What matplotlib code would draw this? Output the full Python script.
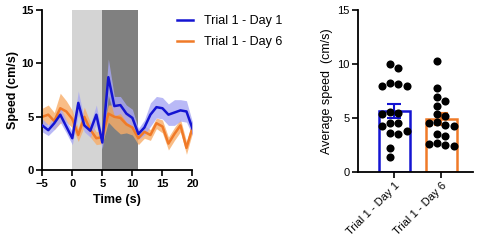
import numpy as np
import matplotlib
matplotlib.use("Agg")
import matplotlib.pyplot as plt

plt.rcParams['font.family'] = ['Liberation Sans', 'DejaVu Sans']

# time course data (mean +/- sem), 1 s bins
time = np.arange(-5, 21)
day1_mean = [4.2, 3.75, 4.4, 5.2, 4.1, 3.0, 6.3, 4.2, 3.7, 5.2, 2.6, 8.7, 6.0,
             6.1, 5.3, 4.9, 3.4, 4.0, 5.2, 5.9, 5.8, 5.2, 5.4, 5.6, 5.5, 3.9]
day1_sem = [0.6, 0.5, 0.6, 0.7, 0.6, 0.6, 1.1, 0.6, 0.6, 0.9, 0.6, 1.7, 0.9,
            0.8, 0.8, 0.8, 0.5, 0.7, 1.1, 1.0, 1.0, 1.0, 1.2, 1.0, 1.0, 0.6]
day6_mean = [5.0, 5.2, 4.6, 5.8, 5.5, 4.8, 3.3, 5.0, 3.8, 3.0, 3.1, 5.3, 5.0,
             4.9, 4.3, 4.0, 3.0, 3.6, 3.3, 4.4, 4.1, 2.5, 3.4, 4.2, 2.1, 4.0]
day6_sem = [0.8, 0.9, 0.8, 1.4, 1.0, 0.8, 0.6, 0.9, 0.7, 0.6, 0.6, 0.8, 1.1,
            1.5, 0.8, 0.7, 0.6, 0.6, 0.5, 0.5, 0.6, 0.6, 0.6, 0.6, 0.6, 0.5]

# stimulus epochs
light_epoch = (0, 5)
dark_epoch = (5, 11)

# per-animal average speeds
labels = ["Trial 1 - Day 1", "Trial 1 - Day 6"]
avg_day1 = [10.0, 9.65, 8.2, 7.9, 7.95, 8.1, 5.4, 5.5, 5.3, 4.5, 4.5, 4.2,
            3.55, 3.5, 3.8, 2.2, 1.4]
avg_day6 = [10.3, 7.8, 6.55, 6.9, 6.1, 5.2, 5.35, 4.6, 4.5, 4.3, 4.2, 3.5,
            3.3, 2.4, 2.7, 2.5, 2.6]

blue = "#1414d2"
orange = "#f07a28"

fig = plt.figure(figsize=(4.8, 2.48), dpi=100)

# ---- left: time course ----
ax = fig.add_axes([0.088, 0.313, 0.313, 0.648])
ax.axvspan(*light_epoch, color="#d4d4d4", lw=0, zorder=0)
ax.axvspan(*dark_epoch, color="#808080", lw=0, zorder=0)

for m, s, fc in [(day6_mean, day6_sem, "#f8ad68"),
                 (day1_mean, day1_sem, "#a8a8f4")]:
    m = np.array(m)
    s = np.array(s)
    ax.fill_between(time, m - s, m + s, color=fc, alpha=0.8, lw=0, zorder=1)

l1, = ax.plot(time, day1_mean, color=blue, lw=1.8, zorder=3)
l6, = ax.plot(time, day6_mean, color=orange, lw=1.8, zorder=2)

ax.set_xlim(-5, 20)
ax.set_ylim(0, 15)
ax.set_xticks([-5, 0, 5, 10, 15, 20])
ax.set_yticks([0, 5, 10, 15])
ax.set_xlabel("Time (s)", fontsize=9, fontweight="bold", labelpad=4)
ax.set_ylabel("Speed (cm/s)", fontsize=9, fontweight="bold", labelpad=2)
for lab in ax.get_xticklabels() + ax.get_yticklabels():
    lab.set_fontweight("bold")
ax.tick_params(labelsize=8, width=1.2, length=4, pad=2)
for sp in ["top", "right"]:
    ax.spines[sp].set_visible(False)
for sp in ["left", "bottom"]:
    ax.spines[sp].set_linewidth(1.3)

fig.legend([l1, l6], labels, loc="upper left", bbox_to_anchor=(0.345, 0.985),
           frameon=False, fontsize=9, handlelength=1.3, handletextpad=0.85,
           labelspacing=0.75)

# ---- right: averages ----
bx = fig.add_axes([0.746, 0.308, 0.239, 0.652])
xpos = np.array([0, 1])
bar_w = 0.66
bx.set_xlim(-0.77, 1.67)
bx.set_ylim(0, 15)

groups = [avg_day1, avg_day6]
colors = [blue, orange]
for x, vals, c in zip(xpos, groups, colors):
    vals = np.array(vals)
    mean = vals.mean()
    sem = vals.std(ddof=1) / np.sqrt(len(vals))
    bx.bar(x, mean, width=bar_w, facecolor="white", edgecolor=c, lw=1.8, zorder=1)
    bx.errorbar(x, mean, yerr=sem, color=c, capsize=5, lw=1.5, capthick=1.5, zorder=2)

fig.canvas.draw()
# column-style swarm layout in pixel space (half-step columns)
to_px = bx.transData
col = 8.3
diam = 7.6
for x, vals in zip(xpos, groups):
    placed = []
    xs = np.zeros(len(vals))
    order = np.argsort(vals)[::-1]
    for i in order:
        px0, py = to_px.transform((x, vals[i]))
        for k in [-0.5, 0.5, -1.5, 1.5, -2.5, 2.5]:
            cand = (px0 + k * col, py)
            if all((cand[0] - p[0]) ** 2 + (cand[1] - p[1]) ** 2 >= diam ** 2 for p in placed):
                placed.append(cand)
                xs[i] = to_px.inverted().transform(cand)[0]
                break
    bx.scatter(xs, vals, s=34, color="black", zorder=3, lw=0)

bx.set_xticks(xpos)
bx.set_xticklabels(labels, rotation=45, ha="right", rotation_mode="anchor", fontsize=8)
bx.set_yticks([0, 5, 10, 15])
bx.set_ylabel("Average speed  (cm/s)", fontsize=9, labelpad=3)
bx.tick_params(labelsize=8, width=1.2, length=4, pad=2)
for sp in ["top", "right"]:
    bx.spines[sp].set_visible(False)
for sp in ["left", "bottom"]:
    bx.spines[sp].set_linewidth(1.3)

plt.savefig("out.png", dpi=100)
